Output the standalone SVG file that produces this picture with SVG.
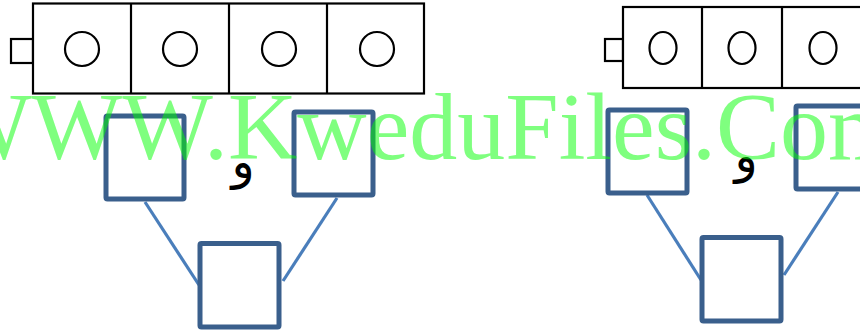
<svg xmlns="http://www.w3.org/2000/svg" width="860" height="332" viewBox="0 0 860 332">
<style>
.bat{fill:#fff;stroke:#000;stroke-width:2.2}
.cell{fill:none;stroke:#000;stroke-width:2.2}
.box{fill:#fff;stroke:#3a5f8c;stroke-width:5;stroke-linejoin:round}
.con{stroke:#4a7ebb;stroke-width:3.2;fill:none}
.waw{font-family:"DejaVu Sans",sans-serif;font-size:48px;fill:#000}
.wm{font-family:"Liberation Serif","Times New Roman",serif;font-size:96px;fill:#00ff00;fill-opacity:0.5}
</style>
<rect width="860" height="332" fill="#fff"/>
<g id="battery-left">
<rect class="bat" x="11" y="39" width="22" height="24"/>
<rect class="bat" x="33" y="3.5" width="391" height="90"/>
<line class="cell" x1="131" y1="3.5" x2="131" y2="93.5"/>
<line class="cell" x1="229" y1="3.5" x2="229" y2="93.5"/>
<line class="cell" x1="327" y1="3.5" x2="327" y2="93.5"/>
<circle class="cell" cx="82" cy="49" r="17"/>
<circle class="cell" cx="180" cy="49" r="17"/>
<circle class="cell" cx="279" cy="49" r="17"/>
<circle class="cell" cx="377" cy="49" r="17"/>
</g>
<g id="battery-right">
<rect class="bat" x="605" y="39" width="18" height="22"/>
<rect class="bat" x="623" y="7" width="240" height="81"/>
<line class="cell" x1="702" y1="7" x2="702" y2="88"/>
<line class="cell" x1="782" y1="7" x2="782" y2="88"/>
<ellipse class="cell" cx="663" cy="48" rx="13.5" ry="16"/>
<ellipse class="cell" cx="742" cy="48" rx="13.5" ry="16"/>
<ellipse class="cell" cx="823" cy="48" rx="13.5" ry="16"/>
</g>
<g id="connectors">
<line class="con" x1="145" y1="202" x2="199" y2="285"/>
<line class="con" x1="337" y1="198" x2="283" y2="281"/>
<line class="con" x1="647" y1="195" x2="701" y2="280"/>
<line class="con" x1="838" y1="192" x2="784" y2="275"/>
</g>
<g id="box-left-1"><rect class="box" x="106" y="116" width="78" height="83" rx="1.5"/></g>
<g id="box-left-2"><rect class="box" x="294" y="112" width="79" height="83" rx="1.5"/></g>
<g id="box-left-3"><rect class="box" x="200" y="243.5" width="79" height="83.5" rx="1.5"/></g>
<g id="box-right-1"><rect class="box" x="608" y="110" width="79" height="83" rx="1.5"/></g>
<g id="box-right-2"><rect class="box" x="796" y="106" width="79" height="83" rx="1.5"/></g>
<g id="box-right-3"><rect class="box" x="702" y="237.5" width="79" height="83.5" rx="1.5"/></g>
<text class="waw" x="243" y="178" text-anchor="middle">و</text>
<text class="waw" x="746" y="172" text-anchor="middle">و</text>
<text class="wm" x="-59" y="159">WWW.KweduFiles.Com</text>
</svg>
